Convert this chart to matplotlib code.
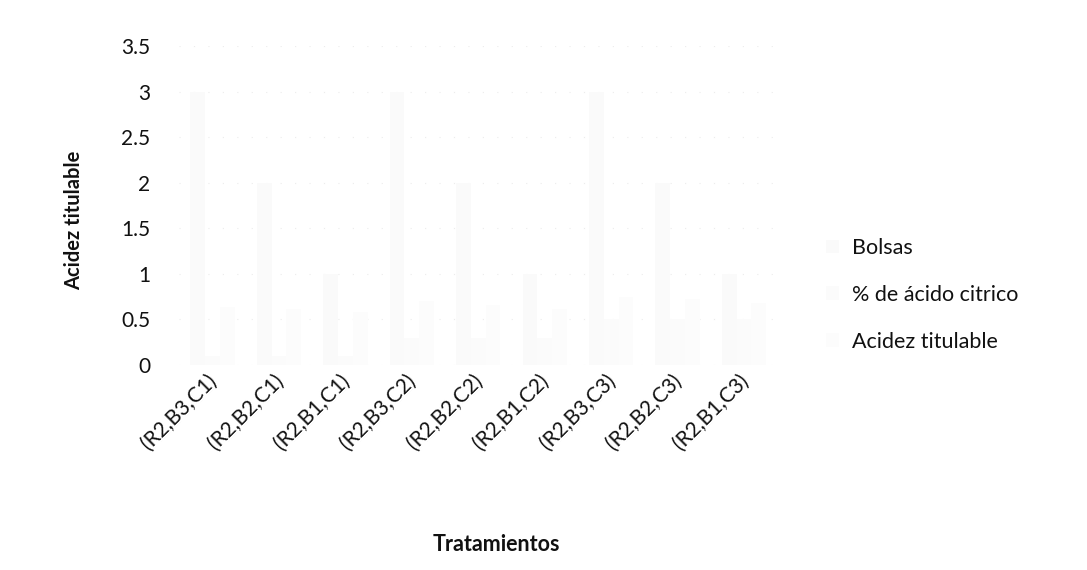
import matplotlib
matplotlib.use("Agg")
import matplotlib.pyplot as plt
import matplotlib.transforms as mtransforms
import numpy as np

plt.rcParams["font.family"] = ["Lato", "DejaVu Sans"]

# Treatments (rate, bag, citric-acid level)
tratamientos = ["(R2,B3,C1)", "(R2,B2,C1)", "(R2,B1,C1)",
                "(R2,B3,C2)", "(R2,B2,C2)", "(R2,B1,C2)",
                "(R2,B3,C3)", "(R2,B2,C3)", "(R2,B1,C3)"]

# Series values
bolsas = [3, 2, 1, 3, 2, 1, 3, 2, 1]
acido_citrico = [0.1, 0.1, 0.1, 0.3, 0.3, 0.3, 0.5, 0.5, 0.5]
acidez_titulable = [0.64, 0.61, 0.58, 0.70, 0.66, 0.62, 0.75, 0.72, 0.68]

series_names = ["Bolsas", "% de ácido citrico", "Acidez titulable"]
y_ticks = [0, 0.5, 1, 1.5, 2, 2.5, 3, 3.5]
y_tick_labels = ["0", "0.5", "1", "1.5", "2", "2.5", "3", "3.5"]

fig = plt.figure(figsize=(10.87, 5.70), dpi=100)
ax = fig.add_axes([0.165, 0.3596, 0.55, 0.5596])

x = np.arange(len(tratamientos))
w = 0.222
# very pale fills, as printed in the faded copy
colors = ["#fafafa", "#fbfbfb", "#fcfcfc"]
for i, (vals, name) in enumerate(zip([bolsas, acido_citrico, acidez_titulable], series_names)):
    ax.bar(x + (i - 1) * w, vals, width=w, color=colors[i], edgecolor="none", label=name, zorder=2)

ax.set_xlim(-0.5, len(tratamientos) - 0.5)
ax.set_ylim(0, 3.5)
ax.set_yticks(y_ticks)
ax.set_yticklabels(y_tick_labels)
ax.yaxis.grid(True, color="#ececec", linestyle=(0, (1, 12)), linewidth=0.8, zorder=0)
ax.set_axisbelow(True)
for s in ax.spines.values():
    s.set_visible(False)
ax.tick_params(axis="y", length=0, pad=21, labelsize=15, labelcolor="#111111")
ax.tick_params(axis="x", length=0, pad=4, labelsize=15, labelcolor="#111111")
ax.set_xticks(x)
ax.set_xticklabels(tratamientos, rotation=45, ha="right", rotation_mode="anchor")
shift = mtransforms.ScaledTranslation(-6 / 100, 0, fig.dpi_scale_trans)
for lbl in ax.get_xticklabels():
    lbl.set_transform(lbl.get_transform() + shift)

ax.set_ylabel("Acidez titulable", fontsize=14.5, fontweight="bold", color="#111111")
ax.yaxis.set_label_coords(-0.16, 0.455)
fig.text(0.457, 0.044, "Tratamientos", fontsize=15.5, fontweight="bold", color="#111111",
         ha="center", va="center")

leg = ax.legend(loc="center left", bbox_to_anchor=(1.05, 0.22), frameon=False,
                fontsize=15.5, labelspacing=1.25, handlelength=0.6, handleheight=0.6,
                handletextpad=0.6)
for t in leg.get_texts():
    t.set_color("#111111")

fig.savefig("out.png", dpi=100, facecolor="white")
